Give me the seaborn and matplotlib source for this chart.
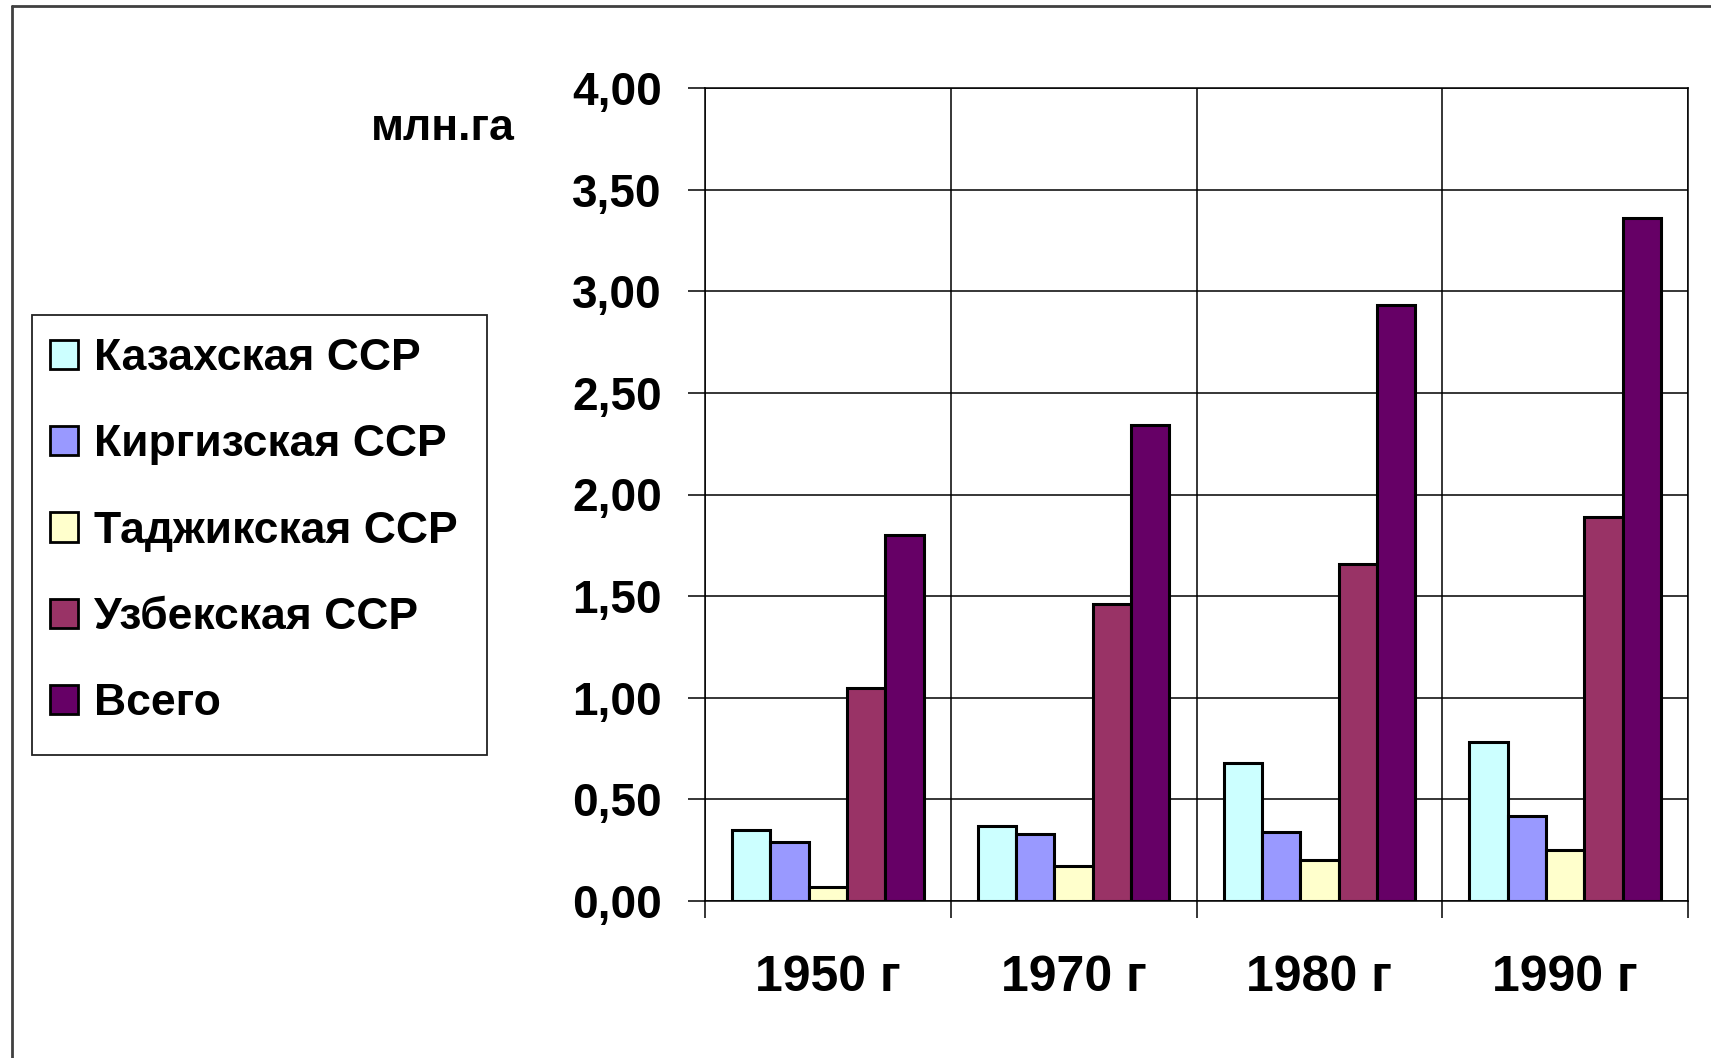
import matplotlib
matplotlib.use('Agg')
import matplotlib.pyplot as plt
import matplotlib.patches as mpatches
from matplotlib.lines import Line2D
from matplotlib.ticker import FuncFormatter, FixedLocator
import seaborn as sns
import pandas as pd

# values, млн. га
years = ['1950 г', '1970 г', '1980 г', '1990 г']
republics = ['Казахская ССР', 'Киргизская ССР', 'Таджикская ССР', 'Узбекская ССР', 'Всего']
kazakh = [0.35, 0.37, 0.68, 0.78]
kirgiz = [0.29, 0.33, 0.34, 0.42]
tajik = [0.07, 0.17, 0.20, 0.25]
uzbek = [1.05, 1.46, 1.66, 1.89]
total = [1.80, 2.34, 2.93, 3.36]
colors = ['#CCFFFF', '#9999FF', '#FFFFCC', '#993366', '#660066']

series = [kazakh, kirgiz, tajik, uzbek, total]
rows = []
for name, vals in zip(republics, series):
    for yr, v in zip(years, vals):
        rows.append({'year': yr, 'republic': name, 'value': v})
df = pd.DataFrame(rows)

sns.set_theme(style='white')
plt.rcParams['font.family'] = ['Liberation Sans', 'DejaVu Sans']

W, H = 1711, 1058
fig = plt.figure(figsize=(W / 100, H / 100), dpi=100)
ax = fig.add_axes([705 / W, 1 - 901 / H, (1688 - 705) / W, (901 - 88) / H])

sns.barplot(data=df, x='year', y='value', hue='republic', hue_order=republics,
            order=years, palette=colors, saturation=1, width=0.78,
            edgecolor='black', linewidth=2.2, errorbar=None, legend=False, ax=ax)

ax.set_xlim(-0.5, 3.5)
ax.set_ylim(0, 4)
ax.set_axisbelow(True)
ax.set_xlabel('')
ax.set_ylabel('')

ax.yaxis.set_major_locator(FixedLocator([i * 0.5 for i in range(9)]))
ax.yaxis.set_major_formatter(FuncFormatter(lambda v, p: f'{v:.2f}'.replace('.', ',')))
ax.xaxis.set_minor_locator(FixedLocator([-0.5, 0.5, 1.5, 2.5, 3.5]))

ax.grid(axis='y', which='major', color='black', linewidth=1.1)
ax.grid(axis='x', which='minor', color='black', linewidth=1.1)
ax.grid(axis='x', which='major', visible=False)

ax.tick_params(axis='y', which='major', direction='out', length=12.2, width=1.1,
               color='black', pad=19, left=True, labelsize=33)
ax.tick_params(axis='x', which='major', length=0, pad=39, labelsize=36)
ax.tick_params(axis='x', which='minor', direction='out', length=12.2, width=1.1,
               color='black', bottom=True)
for lab in ax.get_xticklabels() + ax.get_yticklabels():
    lab.set_fontweight('bold')
    lab.set_color('black')

for sp in ax.spines.values():
    sp.set_color('black')
    sp.set_linewidth(1.1)
    sp.set_visible(True)

fig.text(443 / W, 1 - 129 / H, 'млн.га', ha='center', va='center',
         fontsize=32, fontweight='bold', color='black')

handles = [mpatches.Patch(facecolor=c, edgecolor='black', linewidth=2.0, label=r)
           for c, r in zip(colors, republics)]
fig.legend(handles=handles, loc='upper left', bbox_to_anchor=(50 / W, 1 - 338 / H),
           frameon=False, prop={'size': 32, 'weight': 'bold'}, handlelength=0.63,
           handleheight=0.63, handletextpad=0.36, labelspacing=1.02, borderpad=0,
           borderaxespad=0, labelcolor='black')

# legend box and outer frame
fig.add_artist(mpatches.Rectangle((32 / W, 1 - 755 / H), (487 - 32) / W, (755 - 315) / H,
                                  transform=fig.transFigure, fill=False,
                                  edgecolor='#222222', linewidth=1.3))
fig.add_artist(Line2D([12 / W, 12 / W], [0, 1 - 6 / H], transform=fig.transFigure,
                      color='#404040', linewidth=2))
fig.add_artist(Line2D([12 / W, 1], [1 - 6 / H, 1 - 6 / H], transform=fig.transFigure,
                      color='#404040', linewidth=2))

fig.savefig('out.png', dpi=100)
